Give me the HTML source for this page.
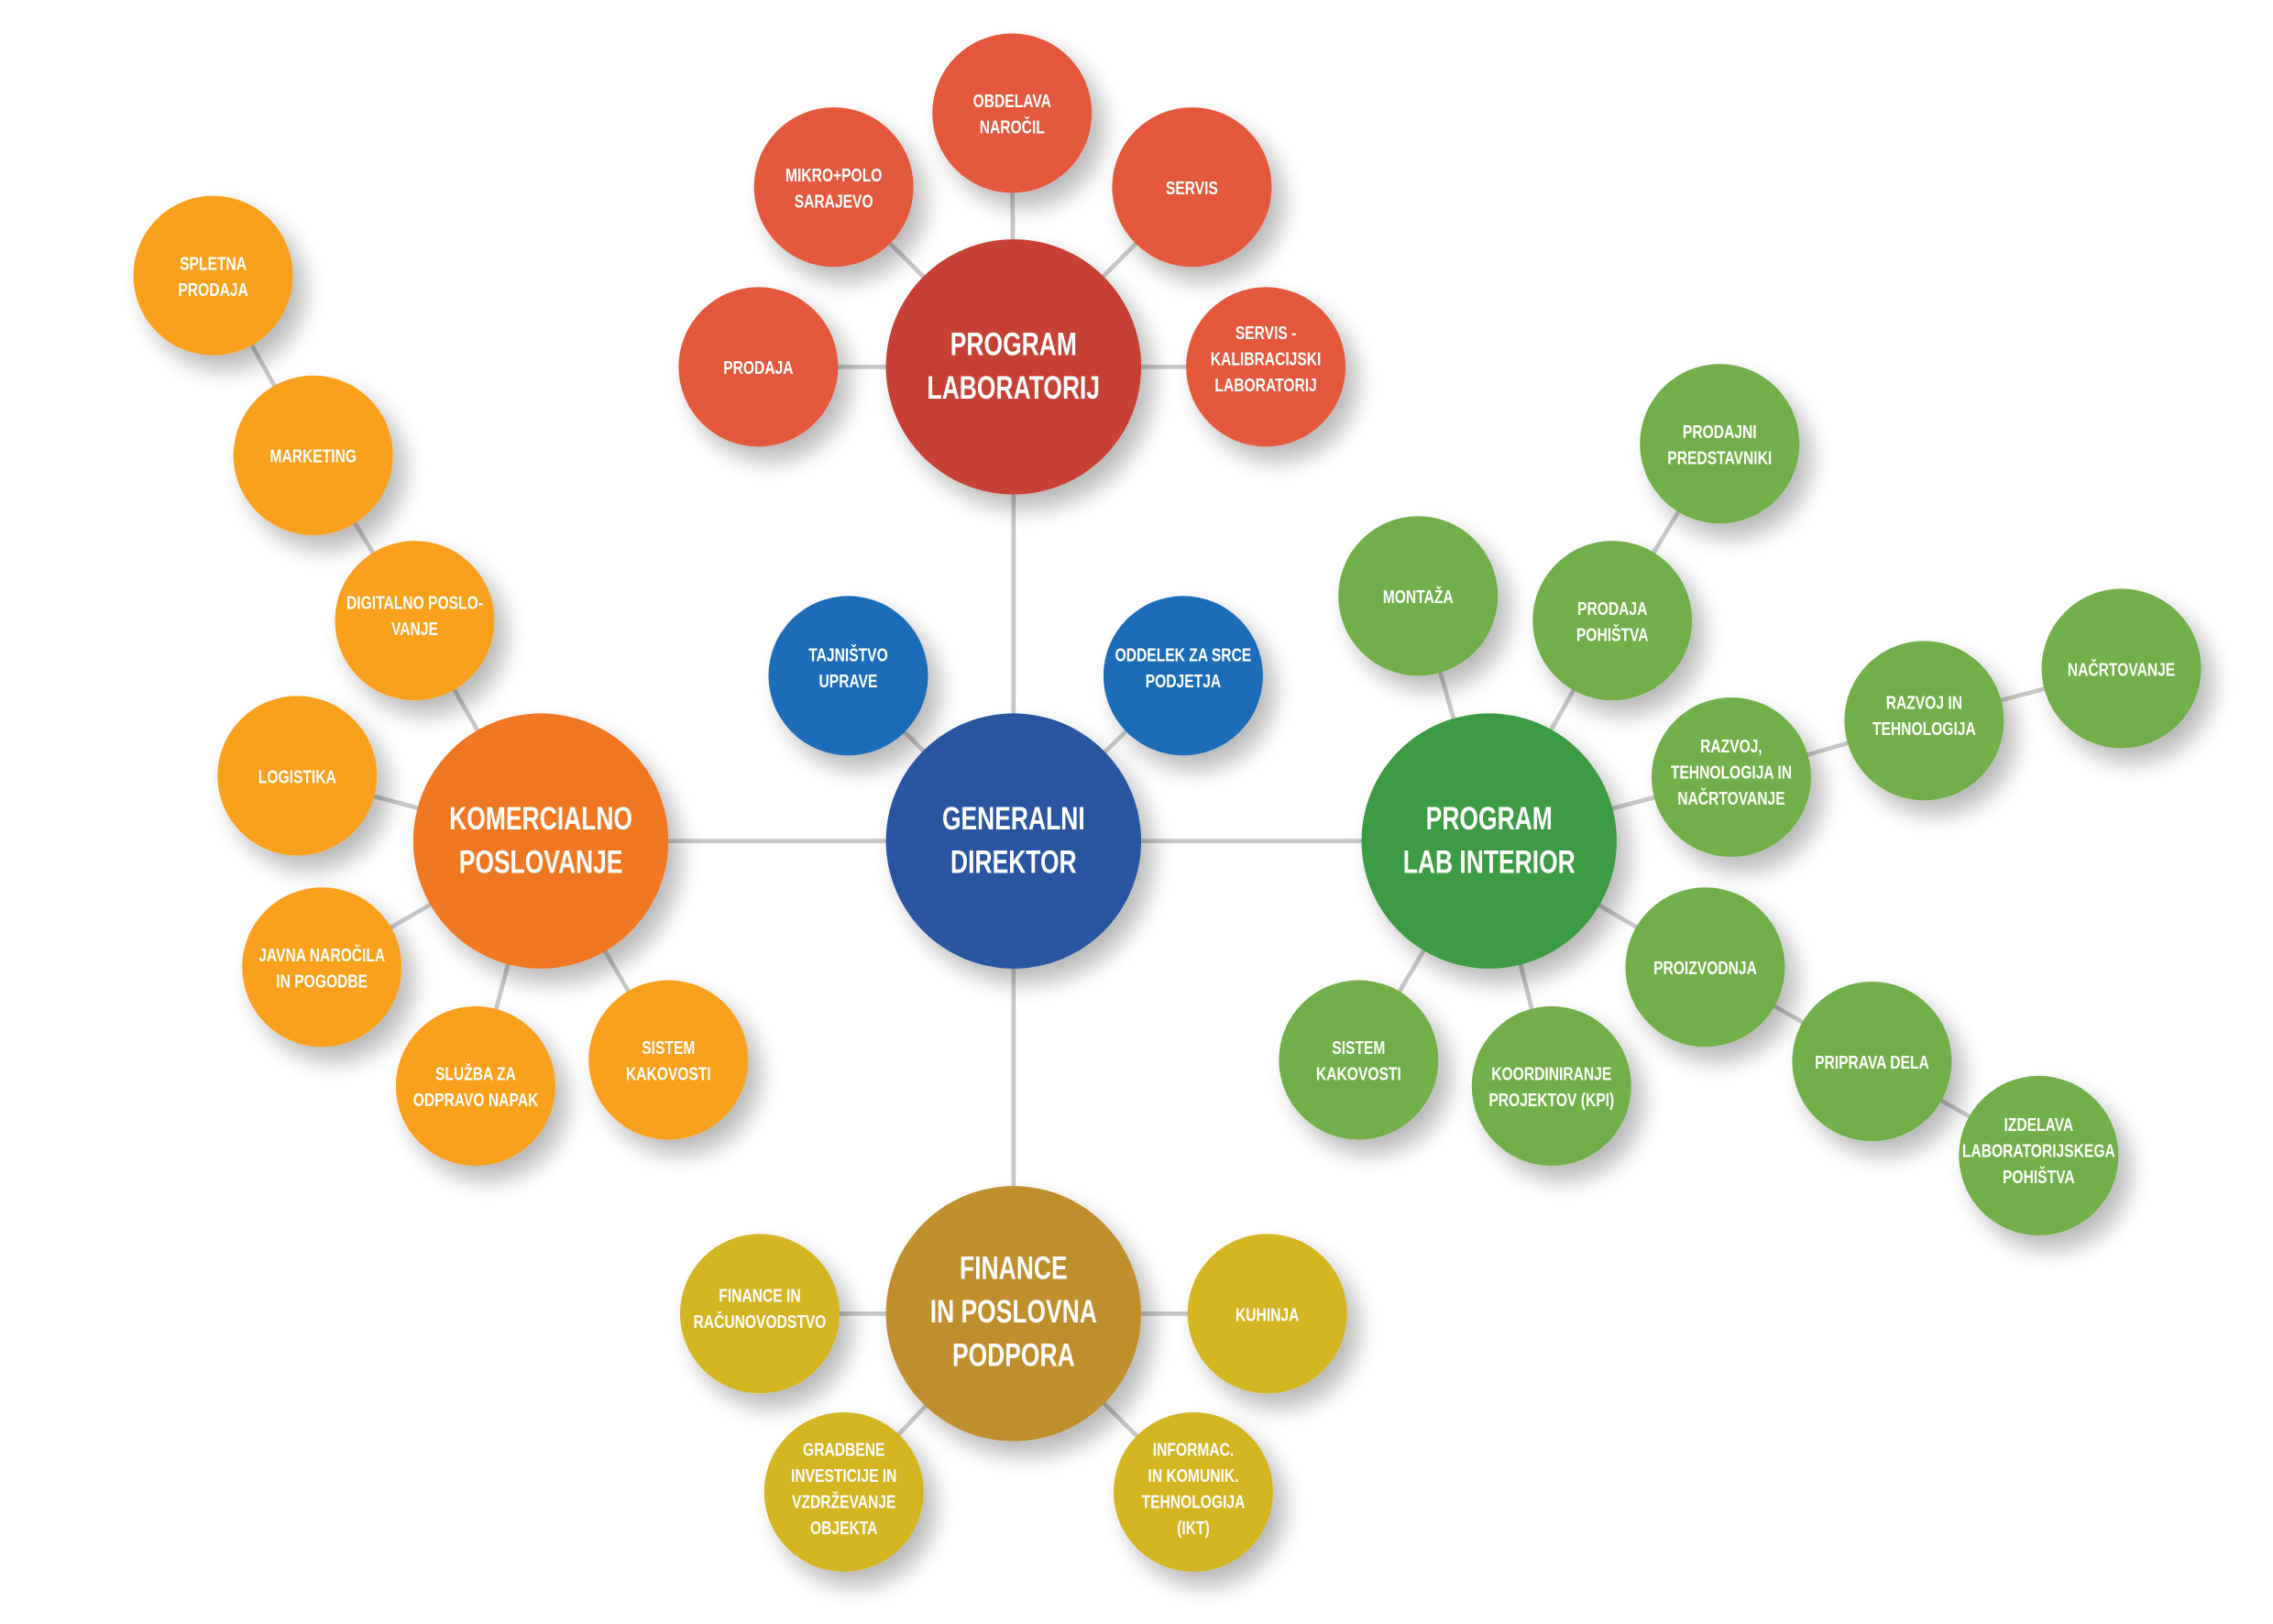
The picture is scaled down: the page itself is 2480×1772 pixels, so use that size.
<!DOCTYPE html>
<html><head><meta charset="utf-8"><style>
html,body{margin:0;padding:0;background:#fff;}
svg{display:block;}
text{font-family:"Liberation Sans",sans-serif;font-weight:bold;fill:#fff;text-anchor:middle;transform-box:fill-box;transform-origin:center;transform:scaleX(0.76);}
.b text{font-size:22px;}
.s text{font-size:13px;}
</style></head><body>
<svg width="2480" height="1772" viewBox="0 0 1567.6 1120" xmlns="http://www.w3.org/2000/svg">
<defs>
<filter id="sh" x="-50%" y="-50%" width="200%" height="200%">
<feDropShadow dx="8" dy="10" stdDeviation="8" flood-color="#000" flood-opacity="0.28"/>
</filter>
</defs>
<g stroke="#c9c9c9" stroke-width="3" fill="none">
<line x1="699" y1="580" x2="699" y2="253"/><line x1="699" y1="580" x2="373" y2="580"/>
<line x1="699" y1="580" x2="1027" y2="580"/><line x1="699" y1="580" x2="699" y2="906"/>
<line x1="699" y1="580" x2="585" y2="466"/><line x1="699" y1="580" x2="816" y2="466"/>
<line x1="699" y1="253" x2="698" y2="78"/><line x1="699" y1="253" x2="575" y2="129"/>
<line x1="699" y1="253" x2="822" y2="129"/><line x1="699" y1="253" x2="523" y2="253"/>
<line x1="699" y1="253" x2="873" y2="253"/>
<line x1="147" y1="190" x2="216" y2="314"/><line x1="216" y1="314" x2="286" y2="428"/>
<line x1="286" y1="428" x2="373" y2="580"/><line x1="205" y1="535" x2="373" y2="580"/>
<line x1="222" y1="667" x2="373" y2="580"/><line x1="328" y1="749" x2="373" y2="580"/>
<line x1="461" y1="731" x2="373" y2="580"/>
<line x1="1186" y1="306" x2="1112" y2="428"/><line x1="1112" y1="428" x2="1027" y2="580"/>
<line x1="978" y1="411" x2="1027" y2="580"/><line x1="1194" y1="536" x2="1027" y2="580"/>
<line x1="1327" y1="497" x2="1194" y2="536"/><line x1="1463" y1="461" x2="1327" y2="497"/>
<line x1="1176" y1="667" x2="1027" y2="580"/><line x1="1291" y1="732" x2="1176" y2="667"/>
<line x1="1406" y1="797" x2="1291" y2="732"/><line x1="937" y1="731" x2="1027" y2="580"/>
<line x1="1070" y1="749" x2="1027" y2="580"/>
<line x1="699" y1="906" x2="524" y2="906"/><line x1="699" y1="906" x2="874" y2="906"/>
<line x1="699" y1="906" x2="582" y2="1029"/><line x1="699" y1="906" x2="823" y2="1029"/>
</g>
<g filter="url(#sh)">
<circle cx="699" cy="580" r="88" fill="#2a55a0"/>
<circle cx="699" cy="253" r="88" fill="#c63f35"/>
<circle cx="373" cy="580" r="88" fill="#f07820"/>
<circle cx="1027" cy="580" r="88" fill="#3c9a45"/>
<circle cx="699" cy="906" r="88" fill="#bf8f2e"/>
<circle cx="585" cy="466" r="55" fill="#1f6cb8"/><circle cx="816" cy="466" r="55" fill="#1f6cb8"/>
<g fill="#e4583e">
<circle cx="698" cy="78" r="55"/><circle cx="575" cy="129" r="55"/><circle cx="822" cy="129" r="55"/>
<circle cx="523" cy="253" r="55"/><circle cx="873" cy="253" r="55"/>
</g>
<g fill="#f9a01e">
<circle cx="147" cy="190" r="55"/><circle cx="216" cy="314" r="55"/><circle cx="286" cy="428" r="55"/>
<circle cx="205" cy="535" r="55"/><circle cx="222" cy="667" r="55"/><circle cx="328" cy="749" r="55"/>
<circle cx="461" cy="731" r="55"/>
</g>
<g fill="#72ae48">
<circle cx="1186" cy="306" r="55"/><circle cx="978" cy="411" r="55"/><circle cx="1112" cy="428" r="55"/>
<circle cx="1194" cy="536" r="55"/><circle cx="1327" cy="497" r="55"/><circle cx="1463" cy="461" r="55"/>
<circle cx="1176" cy="667" r="55"/><circle cx="937" cy="731" r="55"/><circle cx="1070" cy="749" r="55"/>
<circle cx="1291" cy="732" r="55"/><circle cx="1406" cy="797" r="55"/>
</g>
<g fill="#d4b521">
<circle cx="524" cy="906" r="55"/><circle cx="874" cy="906" r="55"/>
<circle cx="582" cy="1029" r="55"/><circle cx="823" cy="1029" r="55"/>
</g>
</g>
<g class="b">
<text x="699" y="572">GENERALNI</text><text x="699" y="602">DIREKTOR</text>
<text x="699" y="245">PROGRAM</text><text x="699" y="275">LABORATORIJ</text>
<text x="373" y="572">KOMERCIALNO</text><text x="373" y="602">POSLOVANJE</text>
<text x="1027" y="572">PROGRAM</text><text x="1027" y="602">LAB INTERIOR</text>
<text x="699" y="882">FINANCE</text><text x="699" y="912">IN POSLOVNA</text><text x="699" y="942">PODPORA</text>
</g>
<g class="s">
<text x="585" y="456">TAJNIŠTVO</text><text x="585" y="474">UPRAVE</text>
<text x="816" y="456">ODDELEK ZA SRCE</text><text x="816" y="474">PODJETJA</text>
<text x="698" y="74">OBDELAVA</text><text x="698" y="92">NAROČIL</text>
<text x="575" y="125">MIKRO+POLO</text><text x="575" y="143">SARAJEVO</text>
<text x="822" y="134">SERVIS</text>
<text x="523" y="258">PRODAJA</text>
<text x="873" y="234">SERVIS -</text><text x="873" y="252">KALIBRACIJSKI</text><text x="873" y="270">LABORATORIJ</text>
<text x="147" y="186">SPLETNA</text><text x="147" y="204">PRODAJA</text>
<text x="216" y="319">MARKETING</text>
<text x="286" y="420">DIGITALNO POSLO-</text><text x="286" y="438">VANJE</text>
<text x="205" y="540">LOGISTIKA</text>
<text x="222" y="663">JAVNA NAROČILA</text><text x="222" y="681">IN POGODBE</text>
<text x="328" y="745">SLUŽBA ZA</text><text x="328" y="763">ODPRAVO NAPAK</text>
<text x="461" y="727">SISTEM</text><text x="461" y="745">KAKOVOSTI</text>
<text x="1186" y="302">PRODAJNI</text><text x="1186" y="320">PREDSTAVNIKI</text>
<text x="978" y="416">MONTAŽA</text>
<text x="1112" y="424">PRODAJA</text><text x="1112" y="442">POHIŠTVA</text>
<text x="1194" y="519">RAZVOJ,</text><text x="1194" y="537">TEHNOLOGIJA IN</text><text x="1194" y="555">NAČRTOVANJE</text>
<text x="1327" y="489">RAZVOJ IN</text><text x="1327" y="507">TEHNOLOGIJA</text>
<text x="1463" y="466">NAČRTOVANJE</text>
<text x="1176" y="672">PROIZVODNJA</text>
<text x="937" y="727">SISTEM</text><text x="937" y="745">KAKOVOSTI</text>
<text x="1070" y="745">KOORDINIRANJE</text><text x="1070" y="763">PROJEKTOV (KPI)</text>
<text x="1291" y="737">PRIPRAVA DELA</text>
<text x="1406" y="780">IZDELAVA</text><text x="1406" y="798">LABORATORIJSKEGA</text><text x="1406" y="816">POHIŠTVA</text>
<text x="524" y="898">FINANCE IN</text><text x="524" y="916">RAČUNOVODSTVO</text>
<text x="874" y="911">KUHINJA</text>
<text x="582" y="1004">GRADBENE</text><text x="582" y="1022">INVESTICIJE IN</text><text x="582" y="1040">VZDRŽEVANJE</text><text x="582" y="1058">OBJEKTA</text>
<text x="823" y="1004">INFORMAC.</text><text x="823" y="1022">IN KOMUNIK.</text><text x="823" y="1040">TEHNOLOGIJA</text><text x="823" y="1058">(IKT)</text>
</g>
</svg>
</body></html>
